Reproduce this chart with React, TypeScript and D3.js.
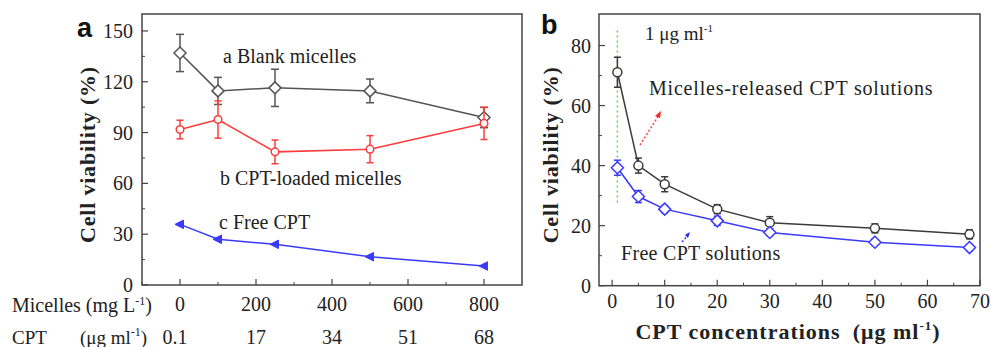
import React from "react";
import * as d3 from "d3";

// ---------- Panel a data ----------
const micelleDose = [0, 100, 250, 500, 800];
const blankMean = [137, 114.6, 116.4, 114.6, 98.9];
const blankErr = [11, 8, 11, 7, 6];
const loadedMean = [91.8, 97.7, 78.6, 80.2, 95.4];
const loadedErr = [5.5, 11, 7, 8, 9.5];
const freeMean = [35.8, 27, 24, 16.7, 11.2];
const aXTicks = [0, 200, 400, 600, 800];
const aCptTicks = ["0.1", "17", "34", "51", "68"];
const aYTicks = [0, 30, 60, 90, 120, 150];

// ---------- Panel b data ----------
const cptConc = [1, 5, 10, 20, 30, 50, 68];
const releasedMean = [71.1, 40, 33.8, 25.5, 21, 19.1, 17.1];
const releasedErr = [5, 2.5, 2.5, 1.5, 2, 1.5, 1.5];
const freeSolMean = [39.3, 29.7, 25.5, 21.6, 17.7, 14.5, 12.7];
const freeSolErr = [2.5, 2, 1.2, 1.5, 1, 1, 1];
const bXTicks = [0, 10, 20, 30, 40, 50, 60, 70];
const bYTicks = [0, 20, 40, 60, 80];

const SERIF = "'Liberation Serif', 'DejaVu Serif', serif";
const SANS = "'Liberation Sans', Arial, sans-serif";

function ErrBar({ x, y0, y1, color, cap = 4 }: any) {
  return (
    <g stroke={color} strokeWidth={1.5}>
      <line x1={x} x2={x} y1={y0} y2={y1} />
      <line x1={x - cap} x2={x + cap} y1={y0} y2={y0} />
      <line x1={x - cap} x2={x + cap} y1={y1} y2={y1} />
    </g>
  );
}

function Diamond({ x, y, r, color }: any) {
  return (
    <path
      d={`M${x},${y - r}L${x + r},${y}L${x},${y + r}L${x - r},${y}Z`}
      fill="white"
      stroke={color}
      strokeWidth={1.5}
    />
  );
}

function TriLeft({ x, y, r, color }: any) {
  return (
    <path
      d={`M${x - r},${y}L${x + r * 0.7},${y - r * 0.85}L${x + r * 0.7},${y + r * 0.85}Z`}
      fill={color}
      stroke={color}
      strokeWidth={1}
    />
  );
}

function PanelA() {
  const left = 142, right = 522, top = 14, bottom = 285;
  const x = d3.scaleLinear().domain([-100, 900]).range([left, right]);
  const y = d3.scaleLinear().domain([0, 160]).range([bottom, top]);
  const line = d3.line<number>().x((_, i) => x(micelleDose[i])).y((d) => y(d));
  const minorX = d3.range(-100, 900, 100).filter((v) => v % 200 !== 0);
  const minorY = d3.range(15, 160, 30);
  const gray = "#555555";
  const red = "#ff3b3b";
  const blue = "#3a3aff";
  return (
    <g>
      <rect x={left} y={top} width={right - left} height={bottom - top} fill="none" stroke="#444" strokeWidth={1.5} />
      {aXTicks.map((t) => (
        <line key={"ax" + t} x1={x(t)} x2={x(t)} y1={bottom} y2={bottom - 6} stroke="#444" strokeWidth={1.2} />
      ))}
      {minorX.map((t) => (
        <line key={"amx" + t} x1={x(t)} x2={x(t)} y1={bottom} y2={bottom - 3} stroke="#444" strokeWidth={1} />
      ))}
      {aYTicks.map((t) => (
        <line key={"ay" + t} x1={left} x2={left + 6} y1={y(t)} y2={y(t)} stroke="#444" strokeWidth={1.2} />
      ))}
      {minorY.map((t) => (
        <line key={"amy" + t} x1={left} x2={left + 3} y1={y(t)} y2={y(t)} stroke="#444" strokeWidth={1} />
      ))}
      {aYTicks.map((t) => (
        <text key={"ayl" + t} x={left - 9} y={y(t) + 7} textAnchor="end" fontFamily={SERIF} fontSize={20} fill="#222">
          {t}
        </text>
      ))}
      {aXTicks.map((t) => (
        <text key={"axl" + t} x={x(t)} y={311} textAnchor="middle" fontFamily={SERIF} fontSize={20} fill="#222">
          {t}
        </text>
      ))}
      {aCptTicks.map((t, i) => (
        <text key={"acl" + t} x={x(aXTicks[i]) + (i === 0 ? -5 : 0)} y={344} textAnchor="middle" fontFamily={SERIF} fontSize={20} fill="#222">
          {t}
        </text>
      ))}
      <text x={12} y={312} fontFamily={SERIF} fontSize={20} fill="#222">
        Micelles (mg L
        <tspan fontSize={12} dy={-7}>-1</tspan>
        <tspan dy={7}>)</tspan>
      </text>
      <text x={12} y={344} fontFamily={SERIF} fontSize={19} fill="#222">
        CPT
        <tspan x={80}>(μg ml</tspan>
        <tspan fontSize={12} dy={-8}>-1</tspan>
        <tspan dy={8}>)</tspan>
      </text>
      <text
        transform={`translate(${95},${(top + bottom) / 2 + 5}) rotate(-90)`}
        textAnchor="middle"
        fontFamily={SERIF}
        fontWeight="bold"
        fontSize={22}
        letterSpacing={0.8}
        fill="#222"
      >
        Cell viability (%)
      </text>
      <text x={77} y={37} fontFamily={SANS} fontWeight="bold" fontSize={27} fill="#111">
        a
      </text>

      {/* Blank micelles */}
      <path d={line(blankMean) || ""} fill="none" stroke={gray} strokeWidth={1.5} />
      {blankMean.map((v, i) => (
        <ErrBar key={"be" + i} x={x(micelleDose[i])} y0={y(v + blankErr[i])} y1={y(v - blankErr[i])} color={gray} />
      ))}
      {blankMean.map((v, i) => (
        <Diamond key={"bm" + i} x={x(micelleDose[i])} y={y(v)} r={6} color={gray} />
      ))}

      {/* CPT-loaded micelles */}
      <path d={line(loadedMean) || ""} fill="none" stroke={red} strokeWidth={1.5} />
      {loadedMean.map((v, i) => (
        <ErrBar key={"le" + i} x={x(micelleDose[i])} y0={y(v + loadedErr[i])} y1={y(v - loadedErr[i])} color={red} cap={3.5} />
      ))}
      {loadedMean.map((v, i) => (
        <circle key={"lm" + i} cx={x(micelleDose[i])} cy={y(v)} r={3.8} fill="white" stroke={red} strokeWidth={1.5} />
      ))}

      {/* Free CPT */}
      <path d={line(freeMean) || ""} fill="none" stroke={blue} strokeWidth={1.5} />
      {freeMean.map((v, i) => (
        <TriLeft key={"fm" + i} x={x(micelleDose[i])} y={y(v)} r={5} color={blue} />
      ))}

      <text x={223} y={63} fontFamily={SERIF} fontSize={20} fill="#222">a Blank micelles</text>
      <text x={220} y={185} fontFamily={SERIF} fontSize={20} fill="#222">b CPT-loaded micelles</text>
      <text x={219} y={229} fontFamily={SERIF} fontSize={20} fill="#222">c Free CPT</text>
    </g>
  );
}

function PanelB() {
  const left = 599, right = 980, top = 14, bottom = 285.7;
  const x = d3.scaleLinear().domain([-2.5, 70]).range([left, right]);
  const y = d3.scaleLinear().domain([0, 90.5]).range([bottom, top]);
  const line = d3.line<number>().x((_, i) => x(cptConc[i])).y((d) => y(d));
  const minorX = d3.range(5, 70, 10);
  const minorY = d3.range(10, 90, 20);
  const black = "#3a3a3a";
  const blue = "#3a3aff";
  return (
    <g>
      <rect x={left} y={top} width={right - left} height={bottom - top} fill="none" stroke="#444" strokeWidth={1.5} />
      {bXTicks.map((t) => (
        <line key={"bx" + t} x1={x(t)} x2={x(t)} y1={bottom} y2={bottom - 6} stroke="#444" strokeWidth={1.2} />
      ))}
      {minorX.map((t) => (
        <line key={"bmx" + t} x1={x(t)} x2={x(t)} y1={bottom} y2={bottom - 3} stroke="#444" strokeWidth={1} />
      ))}
      {bYTicks.map((t) => (
        <line key={"by" + t} x1={left} x2={left + 6} y1={y(t)} y2={y(t)} stroke="#444" strokeWidth={1.2} />
      ))}
      {minorY.map((t) => (
        <line key={"bmy" + t} x1={left} x2={left + 3} y1={y(t)} y2={y(t)} stroke="#444" strokeWidth={1} />
      ))}
      {bYTicks.map((t) => (
        <text key={"byl" + t} x={left - 8} y={y(t) + 7} textAnchor="end" fontFamily={SERIF} fontSize={20} fill="#222">
          {t}
        </text>
      ))}
      {bXTicks.map((t) => (
        <text key={"bxl" + t} x={x(t)} y={308} textAnchor="middle" fontFamily={SERIF} fontSize={20} fill="#222">
          {t}
        </text>
      ))}
      <text x={788} y={339} textAnchor="middle" fontFamily={SERIF} fontWeight="bold" fontSize={22} letterSpacing={1} fill="#222">
        CPT concentrations
        <tspan dx={12}>(μg ml</tspan>
        <tspan fontSize={13} dy={-9}>-1</tspan>
        <tspan dy={9}>)</tspan>
      </text>
      <text
        transform={`translate(${558},${(top + bottom) / 2 + 5}) rotate(-90)`}
        textAnchor="middle"
        fontFamily={SERIF}
        fontWeight="bold"
        fontSize={22}
        letterSpacing={0.8}
        fill="#222"
      >
        Cell viability (%)
      </text>
      <text x={541} y={34} fontFamily={SANS} fontWeight="bold" fontSize={27} fill="#111">
        b
      </text>

      {/* 1 ug/ml guide */}
      <line x1={x(1)} x2={x(1)} y1={y(85)} y2={y(27)} stroke="#55dd55" strokeWidth={1.5} strokeDasharray="2,3" />
      <text x={645} y={40} fontFamily={SERIF} fontSize={19} fill="#222">
        1 μg ml
        <tspan fontSize={11} dy={-8}>-1</tspan>
      </text>

      {/* Micelles-released */}
      <path d={line(releasedMean) || ""} fill="none" stroke={black} strokeWidth={1.5} />
      {releasedMean.map((v, i) => (
        <ErrBar key={"re" + i} x={x(cptConc[i])} y0={y(v + releasedErr[i])} y1={y(v - releasedErr[i])} color={black} cap={3.5} />
      ))}
      {releasedMean.map((v, i) => (
        <circle key={"rm" + i} cx={x(cptConc[i])} cy={y(v)} r={4.5} fill="white" stroke={black} strokeWidth={1.5} />
      ))}

      {/* Free CPT solutions */}
      <path d={line(freeSolMean) || ""} fill="none" stroke={blue} strokeWidth={1.5} />
      {freeSolMean.map((v, i) => (
        <ErrBar key={"fe" + i} x={x(cptConc[i])} y0={y(v + freeSolErr[i])} y1={y(v - freeSolErr[i])} color={blue} cap={3.5} />
      ))}
      {freeSolMean.map((v, i) => (
        <Diamond key={"fd" + i} x={x(cptConc[i])} y={y(v)} r={6} color={blue} />
      ))}

      <text x={649} y={95} fontFamily={SERIF} fontSize={20} letterSpacing={0.8} fill="#222">Micelles-released CPT solutions</text>
      <text x={621} y={260} fontFamily={SERIF} fontSize={20} letterSpacing={0.3} fill="#222">Free CPT solutions</text>

      {/* arrows */}
      <line x1={640} y1={145} x2={659} y2={115} stroke="#ff4444" strokeWidth={1.5} strokeDasharray="2,2" />
      <path d="M661,111 L655,116 L660,118 Z" fill="#ff2222" />
      <line x1={682} y1={242} x2={688} y2={235} stroke="#3333ff" strokeWidth={1.5} strokeDasharray="2,2" />
      <path d="M690,232 L685,235 L688,238 Z" fill="#2222ff" />
    </g>
  );
}

export default function App() {
  return (
    <svg
      width={991}
      height={347}
      viewBox="0 0 991 347"
      style={{ position: "absolute", left: 0, top: 0, background: "white" }}
    >
      <rect x={0} y={0} width={991} height={347} fill="white" />
      <PanelA />
      <PanelB />
    </svg>
  );
}
